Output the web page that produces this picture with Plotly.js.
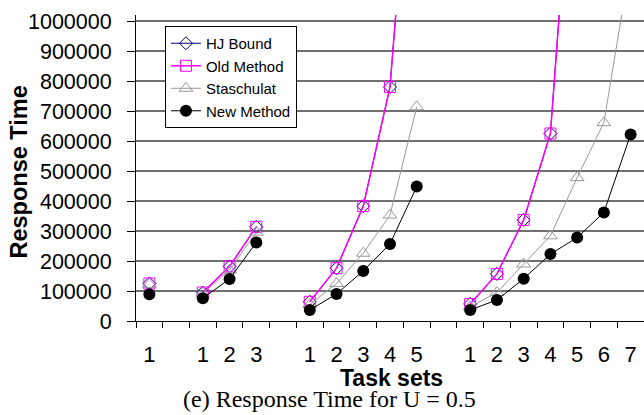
<!DOCTYPE html>
<html>
<head>
<meta charset="utf-8">
<script src="https://cdn.plot.ly/plotly-3.0.1.min.js"></script>
<style>html,body{margin:0;padding:0;background:#fff;}#chart{width:644px;height:415px;}</style>
</head>
<body>
<div id="chart"></div>
<script>
// Category labels along the x axis (blank = gap between task-set groups)
var categories = ["1","","1","2","3","","1","2","3","4","5","","1","2","3","4","5","6","7"];
// Series values (null = no point / gap)
var hjBound    = [125000,null, 95000,182000,314000,null, 64000,176000,383000,780000,1900000,null, 57000,157000,337000,625000,1830000,null,null];
var oldMethod  = [125000,null, 95000,182000,314000,null, 64000,176000,383000,780000,1900000,null, 57000,157000,337000,625000,1830000,null,null];
var staschulat = [122000,null, 92000,170000,296000,null, 55000,125000,226000,353000,714000,null, 47000,95000,190000,284000,478000,661000,1200000];
var newMethod  = [ 89000,null, 76000,140000,262000,null, 37000, 90000,167000,257000,448000,null, 37000, 70000,141000,223000,278000,362000,622000];
var yTicks = [0,100000,200000,300000,400000,500000,600000,700000,800000,900000,1000000];

var xIdx = categories.map(function(_, i){ return i; });
var boundaries = [];
for (var i = 0; i <= categories.length; i++) boundaries.push(i - 0.5);

var font = "Liberation Sans, Arial, sans-serif";

var traces = [
  {name:"HJ Bound", x:xIdx, y:hjBound, type:"scatter", mode:"lines+markers", connectgaps:false,
   line:{color:"#000080", width:1},
   marker:{symbol:"diamond-open", size:10, color:"#000080", line:{width:1, color:"#000080"}}},
  {name:"Old Method", x:xIdx, y:oldMethod, type:"scatter", mode:"lines+markers", connectgaps:false,
   line:{color:"#FF00FF", width:1.5},
   marker:{symbol:"square-open", size:11, color:"#FF00FF", line:{width:1, color:"#FF00FF"}}},
  {name:"Staschulat", x:xIdx, y:staschulat, type:"scatter", mode:"lines+markers", connectgaps:false,
   line:{color:"#999999", width:1},
   marker:{symbol:"triangle-up-open", size:12, color:"#999999", line:{width:1, color:"#999999"}}},
  {name:"New Method", x:xIdx, y:newMethod, type:"scatter", mode:"lines+markers", connectgaps:false,
   line:{color:"#000000", width:1},
   marker:{symbol:"circle", size:12, color:"#000000"}}
];

var layout = {
  width:644, height:415,
  margin:{l:136, r:0, t:15, b:94},
  paper_bgcolor:"#fff", plot_bgcolor:"#fff",
  showlegend:true,
  legend:{x:0.057, y:0.964, xanchor:"left", yanchor:"top",
    bgcolor:"#fff", bordercolor:"#000", borderwidth:1,
    font:{family:font, size:15, color:"#000"}, tracegroupgap:0},
  xaxis:{
    range:[-0.5, categories.length - 0.5],
    tickmode:"array", tickvals:xIdx, ticktext:categories,
    ticks:"", showgrid:false, zeroline:false,
    showline:true, linecolor:"#000", linewidth:1,
    tickfont:{family:font, size:22, color:"#000"},
    ticklabelstandoff:14,
    minor:{tickmode:"array", tickvals:boundaries, ticks:"outside", ticklen:6, tickcolor:"#000", tickwidth:1, showgrid:false}
  },
  yaxis:{
    range:[0, 1020000],
    tickmode:"array", tickvals:yTicks, ticktext:yTicks.map(String),
    ticks:"outside", ticklen:8, tickcolor:"#000", tickwidth:1,
    showgrid:true, gridcolor:"#707070", gridwidth:1.2,
    zeroline:false, showline:true, linecolor:"#000", linewidth:1,
    tickfont:{family:font, size:21.5, color:"#000"},
    ticklabelposition:"outside", ticklabelstandoff:11
  },
  annotations:[{
    text:"<b>Response Time</b>", xref:"paper", yref:"paper",
    x:(19-136)/508, y:(321-172.5)/306, xanchor:"center", yanchor:"middle", textangle:-90,
    showarrow:false, font:{family:font, size:23.5, color:"#000"}
  },{
    text:"<b>Task sets</b>", xref:"paper", yref:"paper",
    x:(391-136)/508, y:-(377.5-321)/306, xanchor:"center", yanchor:"middle",
    showarrow:false, font:{family:font, size:23, color:"#000"}
  },{
    text:"(e) Response Time for U = 0.5", xref:"paper", yref:"paper",
    x:(329-136)/508, y:-(398.5-321)/306, xanchor:"center", yanchor:"middle",
    showarrow:false, font:{family:"Liberation Serif, Times New Roman, serif", size:24, color:"#000"}
  }]
};

Plotly.newPlot("chart", traces, layout, {displayModeBar:false, staticPlot:true});
</script>
</body>
</html>
